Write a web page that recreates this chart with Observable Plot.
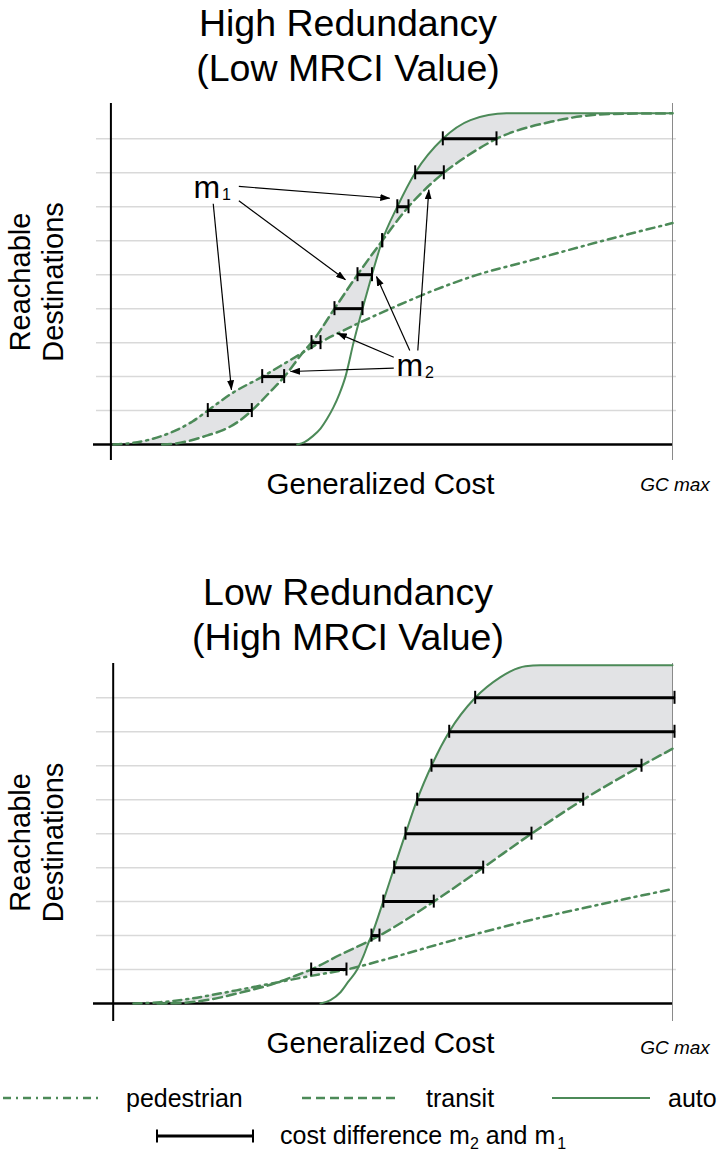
<!DOCTYPE html>
<html><head><meta charset="utf-8">
<script src="https://cdn.jsdelivr.net/npm/d3@7"></script>
<script src="https://cdn.jsdelivr.net/npm/@observablehq/plot@0.6"></script>
<style>
html,body{margin:0;padding:0;background:#fff;overflow:hidden;}
body{width:718px;height:1151px;position:relative;font-family:"Liberation Sans",Arial,sans-serif;}
.t{position:absolute;left:0;width:696px;text-align:center;font-size:37.5px;line-height:1;color:#000;white-space:nowrap;}
.c{position:absolute;left:0;}
</style></head><body>
<div class="t" style="top:5px">High Redundancy</div>
<div class="t" style="top:50px">(Low MRCI Value)</div>
<div id="c1" class="c" style="top:95px"></div>
<div class="t" style="top:574px">Low Redundancy</div>
<div class="t" style="top:619px">(High MRCI Value)</div>
<div id="c2" class="c" style="top:655px"></div>
<div id="leg" class="c" style="top:1070px"></div>
<script>
// ---------- DATA (x = generalized cost, 0 = axis, 100 = GC max; y = reachable-destination level) ----------
const gridLevels = [1, 2, 3, 4, 5, 6, 7, 8, 9];

// High Redundancy (Low MRCI)
const hiAutoGC  = [33.17, 34.47, 35.90, 37.32, 38.57, 39.64, 40.71, 41.77, 43.20, 44.80, 46.49, 48.31, 51.00, 54.18, 59.10, 64.03, 70.44, 100];
const hiAutoLvl = [0, 0.07, 0.24, 0.47, 0.78, 1.1, 1.5, 2.0, 3.0, 4.0, 5.0, 6.0, 7.0, 8.0, 9.0, 9.55, 9.75, 9.75];
const hiTransitGC  = [9.13, 11.50, 14.17, 17.20, 20.05, 22.72, 25.09, 28.06, 30.91, 34.38, 35.72, 39.81, 43.91, 48.31, 52.99, 59.28, 63.50, 68.66, 78.28, 88.96, 100];
const hiTransitLvl = [0, 0.03, 0.12, 0.27, 0.43, 0.68, 1.0, 1.5, 2.0, 2.75, 3.0, 4.0, 5.0, 6.0, 7.0, 8.0, 8.5, 9.0, 9.5, 9.73, 9.75];
const hiPedGC  = [0.46, 3.48, 6.52, 9.37, 11.86, 14.53, 17.25, 21.47, 26.99, 32.07, 37.20, 43.20, 49.79, 56.91, 64.92, 74.72, 87.18, 100];
const hiPedLvl = [0, 0.04, 0.13, 0.27, 0.44, 0.68, 1.0, 1.5, 2.0, 2.5, 3.0, 3.5, 4.0, 4.5, 4.98, 5.42, 5.98, 6.52];
// shaded band: cheapest (m1) and second cheapest (m2) cost per level
const hiBandLvl = [0, 0.04, 0.13, 0.27, 0.44, 0.68, 1.0, 1.5, 2.0, 2.5, 2.74, 3.0, 3.3, 3.56, 4.0, 4.5, 5.0, 5.5, 6.0, 6.5, 7.0, 7.5, 8.0, 8.5, 9.0, 9.3, 9.55, 9.7, 9.75];
const hiBandM1  = [0.46, 3.48, 6.52, 9.37, 11.86, 14.53, 17.25, 21.47, 26.99, 32.07, 34.29, 35.72, 36.97, 38.01, 39.81, 41.86, 43.91, 46.11, 48.31, 49.66, 51.00, 52.59, 54.18, 56.40, 59.10, 61.50, 64.03, 67.50, 70.44];
const hiBandM2  = [9.13, 11.80, 14.35, 17.20, 20.16, 22.72, 25.09, 28.06, 30.91, 33.23, 34.29, 37.20, 40.80, 44.10, 44.80, 45.65, 46.49, 47.40, 48.31, 50.65, 52.99, 56.13, 59.28, 63.50, 68.66, 73.50, 80.50, 86.50, 90.50];
const hiBarLvl = [1, 2, 3, 4, 5, 6, 7, 8, 9];
const hiBarM1  = [17.25, 26.94, 35.72, 39.81, 43.91, 48.31, 51.00, 54.18, 59.10];
const hiBarM2  = [25.09, 30.85, 37.32, 44.80, 46.49, 48.31, 52.99, 59.28, 68.66];
// annotations m1 / m2
const hiLabelGC  = [14.71, 50.85];
const hiLabelLvl = [7.27, 2.03];
const hiLabelSub = ["1", "2"];
const hiArrowX1 = [22.78, 22.78, 18.22, 50.37, 50.37, 53.22, 54.65];
const hiArrowY1 = [7.60, 7.18, 7.09, 2.25, 2.57, 2.77, 2.77];
const hiArrowX2 = [49.66, 41.77, 21.47, 31.98, 40.30, 47.29, 56.61];
const hiArrowY2 = [7.25, 4.85, 1.61, 2.15, 3.28, 4.95, 7.50];

// Low Redundancy (High MRCI)
const loAutoGC  = [37.06, 38.85, 40.64, 42.07, 43.63, 44.75, 45.77, 46.18, 48.27, 50.24, 52.26, 54.35, 56.91, 60.08, 64.72, 69.25, 71.03, 73.71, 76.39, 100];
const loAutoLvl = [0, 0.1, 0.33, 0.65, 1.0, 1.4, 1.84, 2.0, 3, 4, 5, 6, 7, 8, 9, 9.61, 9.78, 9.93, 9.96, 9.96];
const loTransitGC  = [7.92, 12.57, 17.40, 22.76, 28.66, 32.95, 35.40, 40.64, 45.77, 47.61, 57.32, 66.15, 74.79, 84.03, 94.46, 100];
const loTransitLvl = [0, 0.02, 0.12, 0.32, 0.58, 0.84, 1.0, 1.44, 1.84, 2.0, 3, 4, 5, 6, 7, 7.5];
const loPedGC  = [3.63, 8.46, 13.82, 18.29, 22.76, 29.91, 35.28, 41.71, 49.58, 59.41, 73.71, 87.12, 100];
const loPedLvl = [0, 0.04, 0.14, 0.27, 0.41, 0.64, 0.81, 1.0, 1.34, 1.8, 2.42, 2.92, 3.37];
const loBandLvl = [0, 0.04, 0.14, 0.27, 0.41, 0.58, 0.65, 0.84, 1.0, 1.08, 1.4, 1.6, 1.84, 2.0, 2.5, 3, 4, 5, 6, 7, 7.5, 8, 9, 9.61, 9.78, 9.93, 9.96];
const loBandM1  = [3.63, 8.46, 13.82, 18.29, 22.76, 28.04, 29.85, 32.95, 35.40, 36.35, 40.16, 42.69, 45.77, 46.18, 47.22, 48.27, 50.24, 52.26, 54.35, 56.91, 58.50, 60.08, 64.72, 69.25, 71.03, 73.71, 76.39];
const loBandM2  = [7.92, 13.50, 17.90, 21.42, 24.80, 28.66, 29.85, 36.30, 41.71, 43.85, 44.75, 45.21, 45.77, 47.61, 52.47, 57.32, 66.15, 74.79, 84.03, 94.46, 100, 100, 100, 100, 100, 100, 100];
const loBarLvl = [1, 2, 3, 4, 5, 6, 7, 8, 9];
const loBarM1  = [35.40, 46.18, 48.30, 50.24, 52.26, 54.35, 56.91, 60.08, 64.72];
const loBarM2  = [41.71, 47.61, 57.32, 66.15, 74.79, 84.03, 94.46, 100.36, 100.36];

// legend
const legendModes = ["pedestrian", "transit", "auto"];
const legendBarLabel = ["cost difference m", "2", " and m", "1"];

// ---------- STYLE ----------
const GREEN = "#4c8a58";
const FONT = '"Liberation Sans", Arial, sans-serif';
const DASH = {pedestrian: "8,5,2,5", transit: "9,5", auto: null};

const pts = (xs, ys) => xs.map((x, i) => ({x, y: ys[i]}));
const band = (ls, a, b) => ls.map((l, i) => ({l, m1: a[i], m2: b[i]}));

function chart(o) {
  const marks = [
    Plot.ruleY(gridLevels, {stroke: "#d9d9d9", strokeWidth: 1.5, insetLeft: 3, insetRight: -4}),
    Plot.areaX(o.band, {y: "l", x1: "m1", x2: "m2", fill: "#e2e3e5", curve: "monotone-y"}),
    Plot.ruleX([100], {stroke: "#8a8a8a", strokeWidth: 1}),
    Plot.ruleY([0], {stroke: "#000", strokeWidth: 2.5}),
    Plot.ruleX([0], {stroke: "#000", strokeWidth: 2}),
    Plot.line(o.ped, {x: "x", y: "y", stroke: GREEN, strokeWidth: 2.5, strokeDasharray: DASH.pedestrian, curve: "monotone-x"}),
    Plot.line(o.transit, {x: "x", y: "y", stroke: GREEN, strokeWidth: 2.5, strokeDasharray: DASH.transit, curve: "monotone-x"}),
    Plot.line(o.auto, {x: "x", y: "y", stroke: GREEN, strokeWidth: 2, curve: "monotone-x"}),
    Plot.ruleY(o.bars, {y: "l", x1: "m1", x2: "m2", stroke: "#000", strokeWidth: 3}),
    Plot.ruleX(o.bars, {x: "m1", y1: "l", y2: "l", insetTop: -o.tick, insetBottom: -o.tick, stroke: "#000", strokeWidth: 2}),
    Plot.ruleX(o.bars, {x: "m2", y1: "l", y2: "l", insetTop: -o.tick, insetBottom: -o.tick, stroke: "#000", strokeWidth: 2}),
    Plot.text(["Reachable"], {text: d => d, frameAnchor: "left", textAnchor: "middle", lineAnchor: "middle", dx: -72.5, rotate: -90, fontSize: 29}),
    Plot.text(["Destinations"], {text: d => d, frameAnchor: "left", textAnchor: "middle", lineAnchor: "middle", dx: -39.5, rotate: -90, fontSize: 29}),
    Plot.text(["Generalized Cost"], {text: d => d, frameAnchor: "bottom", textAnchor: "middle", lineAnchor: "bottom", dx: -2.5, dy: o.xlabDy, fontSize: 29.5}),
    Plot.text(["GC max"], {text: d => d, frameAnchor: "bottom-right", textAnchor: "middle", lineAnchor: "bottom", dx: 2.5, dy: o.gcDy, fontSize: 19, fontStyle: "italic"})
  ];
  if (o.arrows) {
    marks.push(Plot.link(o.arrows, {x1: "x1", y1: "y1", x2: "x2", y2: "y2", stroke: "#000", strokeWidth: 1.2}));
    marks.push(Plot.text(o.labels, {x: "x", y: "y", text: () => "m", textAnchor: "start", lineAnchor: "bottom", fontSize: 32}));
    marks.push(Plot.text(o.labels, {x: "x", y: "y", text: "sub", textAnchor: "start", lineAnchor: "bottom", dx: 28.5, dy: 2, fontSize: 16}));
  }
  const svg = Plot.plot({
    width: 718, height: o.height,
    marginLeft: 93, marginRight: 46, marginTop: 8, marginBottom: o.marginBottom,
    x: {domain: o.xDomain, axis: null},
    y: {domain: o.yDomain, axis: null},
    style: {fontFamily: FONT, background: "transparent", overflow: "visible"},
    marks
  });
  if (o.arrows) {
    const s = d3.select(svg);
    s.insert("defs", ":first-child").append("marker")
      .attr("id", "ahead").attr("viewBox", "0 0 10 7").attr("refX", 9.5).attr("refY", 3.5)
      .attr("markerWidth", 10).attr("markerHeight", 7).attr("markerUnits", "userSpaceOnUse").attr("orient", "auto")
      .append("path").attr("d", "M0,0L10,3.5L0,7Z").attr("fill", "#000");
    s.selectAll('g[aria-label="link"] path').attr("marker-end", "url(#ahead)");
  }
  return svg;
}

document.getElementById("c1").appendChild(chart({
  height: 415, marginBottom: 50, xDomain: [-3.1, 100], yDomain: [-0.47, 10.04], tick: 7,
  xlabDy: 33, gcDy: 30,
  auto: pts(hiAutoGC, hiAutoLvl), transit: pts(hiTransitGC, hiTransitLvl), ped: pts(hiPedGC, hiPedLvl),
  band: band(hiBandLvl, hiBandM1, hiBandM2), bars: band(hiBarLvl, hiBarM1, hiBarM2),
  labels: hiLabelGC.map((x, i) => ({x, y: hiLabelLvl[i], sub: hiLabelSub[i]})),
  arrows: hiArrowX1.map((x1, i) => ({x1, y1: hiArrowY1[i], x2: hiArrowX2[i], y2: hiArrowY2[i]}))
}));

document.getElementById("c2").appendChild(chart({
  height: 410, marginBottom: 44, xDomain: [-3.52, 100], yDomain: [-0.53, 10.01], tick: 6.5,
  xlabDy: 31, gcDy: 32,
  auto: pts(loAutoGC, loAutoLvl), transit: pts(loTransitGC, loTransitLvl), ped: pts(loPedGC, loPedLvl),
  band: band(loBandLvl, loBandM1, loBandM2), bars: band(loBarLvl, loBarM1, loBarM2)
}));

// ---------- LEGEND ----------
const leg = d3.create("svg").attr("width", 718).attr("height", 81).style("display", "block")
  .style("font-family", FONT);
const swatchX = [[3, 103], [302, 400], [552, 650]];
const labelX = [126, 426, 668];
legendModes.forEach((m, i) => {
  leg.append("line").attr("x1", swatchX[i][0]).attr("x2", swatchX[i][1]).attr("y1", 28).attr("y2", 28)
    .attr("stroke", GREEN).attr("stroke-width", m === "auto" ? 2 : 2.5)
    .attr("stroke-dasharray", DASH[m]);
  leg.append("text").attr("x", labelX[i]).attr("y", 37).attr("font-size", 25).text(m);
});
leg.append("line").attr("x1", 157).attr("x2", 253).attr("y1", 66).attr("y2", 66).attr("stroke", "#000").attr("stroke-width", 3);
[157, 253].forEach(x => leg.append("line").attr("x1", x).attr("x2", x).attr("y1", 59.5).attr("y2", 72.5).attr("stroke", "#000").attr("stroke-width", 2));
const lt = leg.append("text").attr("x", 280).attr("y", 74).attr("font-size", 25);
lt.append("tspan").text(legendBarLabel[0]);
lt.append("tspan").attr("font-size", 16).attr("dy", 5).text(legendBarLabel[1]);
lt.append("tspan").attr("dy", -5).text(legendBarLabel[2]);
lt.append("tspan").attr("font-size", 16).attr("dx", 2).attr("dy", 5).text(legendBarLabel[3]);
document.getElementById("leg").appendChild(leg.node());
</script>
</body></html>
